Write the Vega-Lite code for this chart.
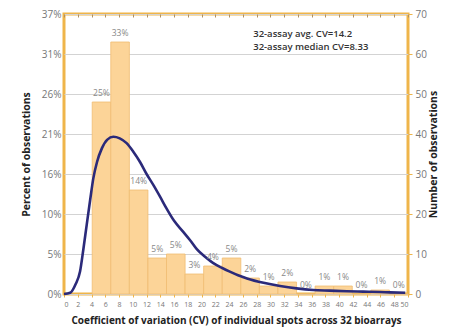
{
  "$schema": "https://vega.github.io/schema/vega-lite/v6.json",
  "width": 344,
  "height": 280,
  "autosize": {"type": "none"},
  "padding": {"left": 64, "top": 14, "right": 42, "bottom": 37},
  "background": "white",
  "config": {
    "view": {"stroke": "#EFB54A", "strokeWidth": 3},
    "font": "Open Sans",
    "axis": {"labelFont": "Open Sans", "titleFont": "Open Sans"}
  },
  "datasets": {
    "bars": [
      {"start": 4.1, "end": 6.8, "mid": 5.45, "count": 48, "label": "25%"},
      {"start": 6.8, "end": 9.5, "mid": 8.15, "count": 63, "label": "33%"},
      {"start": 9.5, "end": 12.2, "mid": 10.85, "count": 26, "label": "14%"},
      {"start": 12.2, "end": 14.9, "mid": 13.55, "count": 9, "label": "5%"},
      {"start": 14.9, "end": 17.6, "mid": 16.25, "count": 10, "label": "5%"},
      {"start": 17.6, "end": 20.3, "mid": 18.95, "count": 5, "label": "3%"},
      {"start": 20.3, "end": 23.0, "mid": 21.65, "count": 7, "label": "4%"},
      {"start": 23.0, "end": 25.7, "mid": 24.35, "count": 9, "label": "5%"},
      {"start": 25.7, "end": 28.4, "mid": 27.05, "count": 4, "label": "2%"},
      {"start": 28.4, "end": 31.1, "mid": 29.75, "count": 2, "label": "1%"},
      {"start": 31.1, "end": 33.8, "mid": 32.45, "count": 3, "label": "2%"},
      {"start": 33.8, "end": 36.5, "mid": 35.15, "count": 0, "label": "0%"},
      {"start": 36.5, "end": 39.2, "mid": 37.85, "count": 2, "label": "1%"},
      {"start": 39.2, "end": 41.9, "mid": 40.55, "count": 2, "label": "1%"},
      {"start": 41.9, "end": 44.6, "mid": 43.25, "count": 0, "label": "0%"},
      {"start": 44.6, "end": 47.3, "mid": 45.95, "count": 1, "label": "1%"},
      {"start": 47.3, "end": 50.0, "mid": 48.65, "count": 0, "label": "0%"}
    ],
    "curve": [
      {"cv": 0, "n": 0},
      {"cv": 0.9, "n": 0.3},
      {"cv": 1.7, "n": 2.5},
      {"cv": 2.33, "n": 5.6},
      {"cv": 2.8, "n": 11},
      {"cv": 3.3, "n": 17.3},
      {"cv": 3.8, "n": 23.5},
      {"cv": 4.26, "n": 28.9},
      {"cv": 4.8, "n": 33},
      {"cv": 5.5, "n": 36.4},
      {"cv": 6.3, "n": 38.6},
      {"cv": 7.17, "n": 39.3},
      {"cv": 8.1, "n": 38.9},
      {"cv": 9.1, "n": 37.7},
      {"cv": 10.1, "n": 35.5},
      {"cv": 11.05, "n": 33},
      {"cv": 12, "n": 30},
      {"cv": 13, "n": 27.2},
      {"cv": 14, "n": 24.2},
      {"cv": 14.9, "n": 21.4},
      {"cv": 16, "n": 18.3},
      {"cv": 17.3, "n": 15.6},
      {"cv": 18.3, "n": 13.5},
      {"cv": 19.3, "n": 11.2},
      {"cv": 20.5, "n": 9.3},
      {"cv": 21.7, "n": 7.7},
      {"cv": 23, "n": 6.5},
      {"cv": 24.1, "n": 5.6},
      {"cv": 25.3, "n": 4.7},
      {"cv": 26.6, "n": 3.9},
      {"cv": 29, "n": 2.8},
      {"cv": 31.4, "n": 2.0},
      {"cv": 33.8, "n": 1.4},
      {"cv": 36.2, "n": 1.0},
      {"cv": 38.6, "n": 0.85},
      {"cv": 41.1, "n": 0.7},
      {"cv": 43.5, "n": 0.6},
      {"cv": 45.9, "n": 0.5},
      {"cv": 47.4, "n": 0.4},
      {"cv": 49.6, "n": 0.3}
    ],
    "notes": [
      {"x": 27.5, "y": 64.2, "text": "32-assay avg. CV=14.2"},
      {"x": 27.5, "y": 60.9, "text": "32-assay median CV=8.33"}
    ]
  },
  "layer": [
    {
      "data": {"name": "bars"},
      "mark": {"type": "bar", "fill": "#FCD498", "stroke": "#F0BC72", "strokeWidth": 0.8},
      "encoding": {
        "x": {
          "field": "start", "type": "quantitative",
          "scale": {"domain": [0, 50], "nice": false, "zero": false},
          "axis": {
            "orient": "bottom",
            "values": [0,2,4,6,8,10,12,14,16,18,20,22,24,26,28,30,32,34,36,38,40,42,44,46,48,50],
            "labelFontSize": 7, "labelColor": "#777", "labelPadding": 3,
            "tickSize": 3, "tickColor": "#EFB54A", "domain": false, "grid": false,
            "title": "Coefficient of variation (CV) of individual spots across 32 bioarrays",
            "titleFontSize": 10, "titleFontWeight": "bold", "titleColor": "#222", "titlePadding": 8
          }
        },
        "x2": {"field": "end"},
        "y": {
          "field": "count", "type": "quantitative",
          "scale": {"domain": [0, 70], "nice": false},
          "axis": {
            "orient": "left",
            "values": [0, 10, 20, 30, 40, 50, 60, 70],
            "labelExpr": "format(datum.value / 191, '.0%')",
            "labelFontSize": 10, "labelColor": "#777", "labelPadding": 3,
            "ticks": false, "domain": false,
            "grid": true, "gridColor": "#D3D3D3", "gridWidth": 1,
            "title": "Percent of observations",
            "titleFontSize": 10.5, "titleFontWeight": "bold", "titleColor": "#222", "titlePadding": 10
          }
        },
        "y2": {"datum": 0}
      }
    },
    {
      "data": {"name": "curve"},
      "mark": {"type": "line", "color": "#2B2A7A", "strokeWidth": 2.6, "interpolate": "monotone"},
      "encoding": {
        "x": {"field": "cv", "type": "quantitative",
          "axis": {"orient": "top", "values": [0,2,4,6,8,10,12,14,16,18,20,22,24,26,28,30,32,34,36,38,40,42,44,46,48,50], "labels": false, "domain": false, "tickSize": -3, "tickColor": "#B09060", "title": null}},
        "y": {
          "field": "n", "type": "quantitative",
          "axis": {
            "orient": "right",
            "values": [0, 10, 20, 30, 40, 50, 60, 70],
            "labelFontSize": 10, "labelColor": "#777", "labelPadding": 3,
            "tickSize": 4, "tickColor": "#EFB54A", "domain": false, "grid": false,
            "title": "Number of observations",
            "titleFontSize": 10.5, "titleFontWeight": "bold", "titleColor": "#222", "titlePadding": 12, "titleAngle": 270
          }
        }
      }
    },
    {
      "data": {"name": "bars"},
      "mark": {"type": "text", "fontSize": 8.5, "color": "#888", "baseline": "bottom", "dy": -4},
      "encoding": {
        "x": {"field": "mid", "type": "quantitative", "axis": null},
        "y": {"field": "count", "type": "quantitative", "axis": null},
        "text": {"field": "label"}
      }
    },
    {
      "data": {"name": "notes"},
      "mark": {"type": "text", "fontSize": 9.5, "fontWeight": 600, "color": "#333", "align": "left", "baseline": "alphabetic"},
      "encoding": {
        "x": {"field": "x", "type": "quantitative", "axis": null},
        "y": {"field": "y", "type": "quantitative", "axis": null},
        "text": {"field": "text"}
      }
    }
  ],
  "resolve": {"axis": {"x": "independent", "y": "independent"}}
}
